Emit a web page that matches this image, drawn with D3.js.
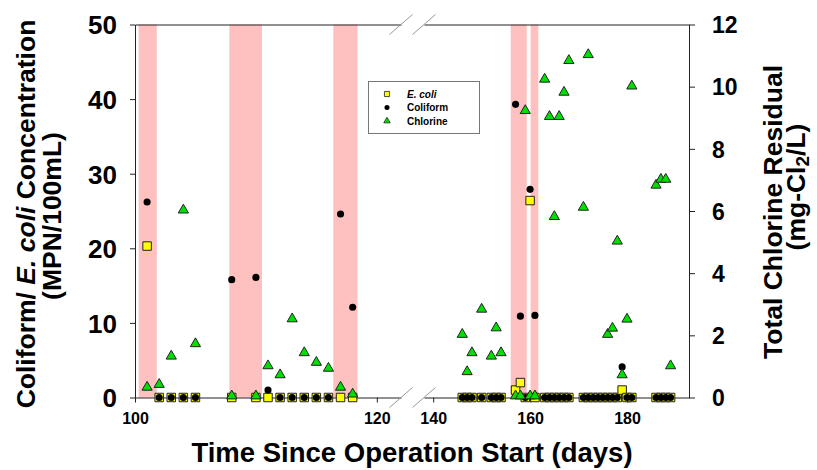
<!DOCTYPE html>
<html>
<head>
<meta charset="utf-8">
<script src="https://cdn.jsdelivr.net/npm/d3@7"></script>
<style>
  body { margin: 0; background: #fff; }
  svg text { font-family: "Liberation Sans", Arial, sans-serif; font-weight: bold; }
</style>
</head>
<body>
<div id="chart"></div>
<script>
var w = 817, h = 470;

// sampling days and values
var ecoliDays   = [101,102,103,104,105,108,110,111,112,113,114,115,116,117,118,
                   146,147,148,150,152,153,154,157,158,159,160,161,
                   163,164,165,166,167,168,171,172,173,174,175,176,177,178,179,180,181,
                   186,187,188,189];
var ecoliValues = [20.3,0,0,0,0,0,0,0,0,0,0,0,0,0,0,
                   0,0,0,0,0,0,0,1.0,2.0,0,26.4,0,
                   0,0,0,0,0,0,0,0,0,0,0,0,0,0,1.0,0,0,
                   0,0,0,0];
var coliformDays   = ecoliDays;
var coliformValues = [26.2,0,0,0,0,15.8,16.1,1.0,0,0,0,0,0,24.6,12.1,
                      0,0,0,0,0,0,0,39.3,10.9,0,27.9,11.0,
                      0,0,0,0,0,0,0,0,0,0,0,0,0,0,4.1,0,0,
                      0,0,0,0];
var chlorineDays   = [101,102,103,104,105,108,110,111,112,113,114,115,116,117,118,
                      146,147,148,150,152,153,154,157,158,159,160,161,
                      163,164,165,166,167,168,171,172,176,177,178,179,180,181,
                      186,187,188,189];
var chlorineValues = [0.33,0.42,1.33,6.03,1.73,0.05,0.05,1.02,0.73,2.53,1.44,1.13,0.94,0.33,0.11,
                      2.03,0.83,1.44,2.84,1.33,2.24,1.44,0.05,0.05,9.23,0.05,0.05,
                      10.24,9.04,5.82,9.04,9.82,10.84,6.12,11.03,2.03,2.23,5.03,0.73,2.52,10.02,
                      6.83,7.02,7.02,1.02];

// shaded periods (start, end day)
var bandStart = [100.3, 107.8, 116.4, 156.0, 160.1];
var bandEnd   = [101.8, 110.5, 118.4, 159.3, 161.7];

var xTicksLeft = [100, 120], xTicksRight = [140, 160, 180];
var yTicksLeft = [0, 10, 20, 30, 40, 50];
var yTicksRight = [0, 2, 4, 6, 8, 10, 12];

var svg = d3.select("#chart").append("svg")
    .attr("width", w).attr("height", h);

var plotTop = 24.5, plotBottom = 397.5, plotLeft = 135, plotRight = 689;

// broken x axis: two pieces with their own scales
var xLeft = d3.scaleLinear().domain([100, 122]).range([plotLeft, 401]);
var xRight = d3.scaleLinear().domain([138.1, 192.8]).range([424, plotRight]);
function xPos(d) { return d < 130 ? xLeft(d) : xRight(d); }

var yLeft = d3.scaleLinear().domain([0, 50]).range([plotBottom, plotTop]);
var yRight = d3.scaleLinear().domain([0, 12]).range([plotBottom, plotTop]);

// shaded bands
svg.append("g").selectAll("rect")
    .data(bandStart)
    .enter().append("rect")
    .attr("x", function(d) { return xPos(d); })
    .attr("y", plotTop)
    .attr("width", function(d, i) { return xPos(bandEnd[i]) - xPos(d); })
    .attr("height", plotBottom - plotTop)
    .attr("fill", "#ffc0c0");

// axes
var leftAxis = svg.append("g")
    .attr("transform", "translate(" + plotLeft + ",0)")
    .call(d3.axisLeft(yLeft).tickValues(yTicksLeft).tickSize(5).tickSizeOuter(0).tickPadding(13));
leftAxis.selectAll("text").style("font-size", "26px").attr("dy", "0.36em");

var rightAxis = svg.append("g")
    .attr("transform", "translate(" + plotRight + ",0)")
    .call(d3.axisRight(yRight).tickValues(yTicksRight).tickSize(6).tickSizeOuter(0).tickPadding(17));
rightAxis.selectAll("text").style("font-size", "23px").attr("dy", "0.36em");

[xLeft, xRight].forEach(function(sc, i) {
  var g = svg.append("g")
      .attr("transform", "translate(0," + plotBottom + ")")
      .call(d3.axisBottom(sc).tickValues(i === 0 ? xTicksLeft : xTicksRight)
            .tickSize(5).tickSizeOuter(0).tickPadding(10));
  g.selectAll("text").style("font-size", "16px");
  svg.append("g")
      .attr("transform", "translate(0," + plotTop + ")")
      .call(d3.axisTop(sc).tickValues([]).tickSizeOuter(0));
});
svg.selectAll(".domain, .tick line").attr("stroke", "#222");

// break marks
[plotTop, plotBottom].forEach(function(yy) {
  [401, 424].forEach(function(xx) {
    svg.append("line")
      .attr("x1", xx - 11.5).attr("y1", yy + 10)
      .attr("x2", xx + 11.5).attr("y2", yy - 10)
      .attr("stroke", "#999").attr("stroke-width", 1);
  });
});

// markers
var sq = d3.symbol().type(d3.symbolSquare).size(72);
var circ = d3.symbol().type(d3.symbolCircle).size(40);
var tri = d3.symbol().type(d3.symbolTriangle).size(45);

svg.append("g").selectAll("path")
    .data(ecoliDays)
    .enter().append("path")
    .attr("d", sq)
    .attr("transform", function(d, i) { return "translate(" + xPos(d) + "," + yLeft(ecoliValues[i]) + ")"; })
    .attr("fill", "#ffff00").attr("stroke", "#222").attr("stroke-width", 1);

svg.append("g").selectAll("path")
    .data(coliformDays)
    .enter().append("path")
    .attr("d", circ)
    .attr("transform", function(d, i) { return "translate(" + xPos(d) + "," + yLeft(coliformValues[i]) + ")"; })
    .attr("fill", "#000");

svg.append("g").selectAll("path")
    .data(chlorineDays)
    .enter().append("path")
    .attr("d", tri)
    .attr("transform", function(d, i) { return "translate(" + xPos(d) + "," + yRight(chlorineValues[i]) + ")"; })
    .attr("fill", "#00e000").attr("stroke", "#222").attr("stroke-width", 1);

// legend
var lg = svg.append("g");
lg.append("rect").attr("x", 368.5).attr("y", 81.5).attr("width", 111).attr("height", 52)
  .attr("fill", "#fff").attr("stroke", "#777");
var legendItems = [
  {sym: d3.symbol().type(d3.symbolSquare).size(26), fill: "#ffff00", stroke: "#222"},
  {sym: d3.symbol().type(d3.symbolCircle).size(20), fill: "#000", stroke: "none"},
  {sym: d3.symbol().type(d3.symbolTriangle).size(18), fill: "#00e000", stroke: "#222"}
];
legendItems.forEach(function(it, i) {
  var yy = 94 + i * 13.5;
  lg.append("path").attr("d", it.sym).attr("transform", "translate(387," + yy + ")")
    .attr("fill", it.fill).attr("stroke", it.stroke).attr("stroke-width", 0.8);
});
lg.append("text").attr("x", 407).attr("y", 97.5).style("font-size", "10px")
  .style("font-style", "italic").text("E. coli");
lg.append("text").attr("x", 407).attr("y", 111).style("font-size", "10px").text("Coliform");
lg.append("text").attr("x", 407).attr("y", 124.5).style("font-size", "10px").text("Chlorine");

// axis titles
var yt = svg.append("text")
    .attr("transform", "translate(35,214) rotate(-90)")
    .attr("text-anchor", "middle").style("font-size", "26.5px");
yt.append("tspan").text("Coliform/ ");
yt.append("tspan").style("font-style", "italic").text("E. coli");
yt.append("tspan").text(" Concentration");
svg.append("text")
    .attr("transform", "translate(61,216) rotate(-90)")
    .attr("text-anchor", "middle").style("font-size", "26.5px")
    .text("(MPN/100mL)");

svg.append("text")
    .attr("transform", "translate(782,212) rotate(-90)")
    .attr("text-anchor", "middle").style("font-size", "26.5px")
    .text("Total Chlorine Residual");
var rt = svg.append("text")
    .attr("transform", "translate(805,187) rotate(-90)")
    .attr("text-anchor", "middle").style("font-size", "26.5px");
rt.append("tspan").text("(mg-Cl");
rt.append("tspan").attr("dy", 4).style("font-size", "19px").text("2");
rt.append("tspan").attr("dy", -4).text("/L)");

svg.append("text")
    .attr("x", 412).attr("y", 462)
    .attr("text-anchor", "middle").style("font-size", "27.5px")
    .text("Time Since Operation Start (days)");
</script>
</body>
</html>
